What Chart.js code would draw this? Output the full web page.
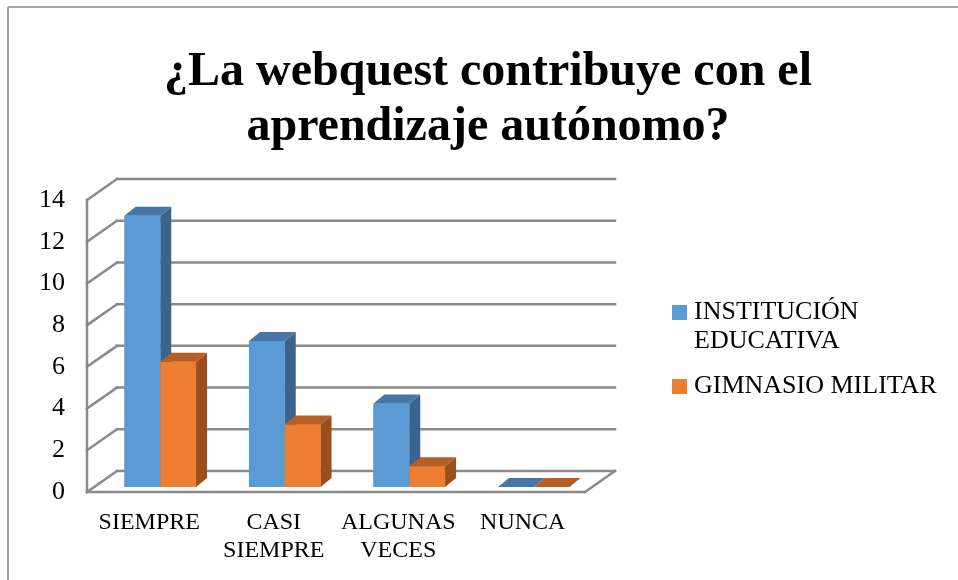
<!DOCTYPE html>
<html>
<head>
<meta charset="utf-8">
<script src="https://cdn.jsdelivr.net/npm/chart.js@4.4.1/dist/chart.umd.min.js"></script>
<style>
  html, body { margin: 0; padding: 0; background: #fff; }
  canvas { display: block; }
</style>
</head>
<body>
<canvas id="chart" width="958" height="580"></canvas>
<script>
const titleLines = ['¿La webquest contribuye con el', 'aprendizaje autónomo?'];
const categories = ['SIEMPRE', ['CASI', 'SIEMPRE'], ['ALGUNAS', 'VECES'], 'NUNCA'];
const seriesNames = ['INSTITUCIÓN EDUCATIVA', 'GIMNASIO MILITAR'];
const institucion = [13, 7, 4, 0];
const gimnasio = [6, 3, 1, 0];
const yMin = 0;
const yMax = 14;
const yStep = 2;

const serif = "'Liberation Serif', 'Times New Roman', serif";
const faces = [
    { front: '#5B9BD5', top: '#4677A8', side: '#3A638D' },
    { front: '#ED7D31', top: '#B65E24', side: '#9A4F1C' },
];

// pixel offsets for the fake depth
const FRONT = { x: -11, y: 5 };
const BACK = { x: 19, y: -16 };
const BAR_DEPTH = { x: 11, y: -9 };

function line(ctx, x1, y1, x2, y2) {
    ctx.beginPath();
    ctx.moveTo(x1, y1);
    ctx.lineTo(x2, y2);
    ctx.stroke();
}

function poly(ctx, pts, color) {
    ctx.beginPath();
    ctx.moveTo(pts[0][0], pts[0][1]);
    for (let i = 1; i < pts.length; i++) ctx.lineTo(pts[i][0], pts[i][1]);
    ctx.closePath();
    ctx.fillStyle = color;
    ctx.fill();
}

const depthPlugin = {
    id: 'depth3d',
    beforeDraw(chart) {
        const ctx = chart.ctx;
        ctx.save();
        ctx.strokeStyle = '#a6a6a6';
        ctx.lineWidth = 2;
        line(ctx, 8, 7, 8, 580);
        line(ctx, 8, 7, 958, 7);
        ctx.restore();
    },
    beforeDatasetsDraw(chart) {
        const ctx = chart.ctx;
        const { left, right } = chart.chartArea;
        const y = chart.scales.y;
        ctx.save();
        ctx.strokeStyle = '#8a8a8a';
        ctx.lineWidth = 2.5;
        ctx.lineCap = 'square';
        for (let v = yMin; v <= yMax; v += yStep) {
            const py = y.getPixelForValue(v);
            line(ctx, left + FRONT.x, py + FRONT.y, left + BACK.x, py + BACK.y);
            line(ctx, left + BACK.x, py + BACK.y, right + BACK.x, py + BACK.y);
        }
        const y0 = y.getPixelForValue(yMin);
        const yTop = y.getPixelForValue(yMax);
        line(ctx, left + FRONT.x, y0 + FRONT.y, left + FRONT.x, yTop + FRONT.y);
        line(ctx, left + FRONT.x, y0 + FRONT.y, right + FRONT.x, y0 + FRONT.y);
        line(ctx, right + FRONT.x, y0 + FRONT.y, right + BACK.x, y0 + BACK.y);
        ctx.restore();
    },
    afterDatasetsDraw(chart) {
        const ctx = chart.ctx;
        ctx.save();
        chart.data.datasets.forEach((ds, i) => {
            const meta = chart.getDatasetMeta(i);
            const f = faces[i];
            meta.data.forEach(bar => {
                const { x, y, base, width } = bar.getProps(['x', 'y', 'base', 'width'], true);
                const l = x - width / 2;
                const r = x + width / 2;
                if (base - y > 0) {
                    poly(ctx, [[r, y], [r + BAR_DEPTH.x, y + BAR_DEPTH.y], [r + BAR_DEPTH.x, base + BAR_DEPTH.y], [r, base]], f.side);
                    ctx.fillStyle = f.front;
                    ctx.fillRect(l, y, width, base - y);
                }
                poly(ctx, [[l, y], [r, y], [r + BAR_DEPTH.x, y + BAR_DEPTH.y], [l + BAR_DEPTH.x, y + BAR_DEPTH.y]], f.top);
            });
        });
        ctx.restore();
    },
    afterDraw(chart) {
        // legend on the right, long names wrapped
        const ctx = chart.ctx;
        ctx.save();
        ctx.font = `26px ${serif}`;
        ctx.textBaseline = 'middle';
        const boxX = 672, textX = 694, maxW = 262, lh = 29;
        let yy = 312;
        chart.data.datasets.forEach((ds, i) => {
            const words = ds.label.split(' ');
            const lines = [];
            let cur = '';
            words.forEach(w => {
                const t = cur ? cur + ' ' + w : w;
                if (ctx.measureText(t).width > maxW && cur) {
                    lines.push(cur);
                    cur = w;
                } else {
                    cur = t;
                }
            });
            lines.push(cur);
            ctx.fillStyle = ds.backgroundColor;
            ctx.fillRect(boxX, yy - 7, 15, 15);
            ctx.fillStyle = '#000';
            lines.forEach((ln, k) => ctx.fillText(ln, textX, yy + k * lh));
            yy += (lines.length - 1) * lh + 45;
        });
        ctx.restore();
    }
};

new Chart(document.getElementById('chart'), {
    type: 'bar',
    data: {
        labels: categories,
        datasets: [
            { label: seriesNames[0], data: institucion, backgroundColor: faces[0].front },
            { label: seriesNames[1], data: gimnasio, backgroundColor: faces[1].front },
        ],
    },
    options: {
        responsive: false,
        animation: false,
        devicePixelRatio: 1,
        datasets: {
            bar: { barPercentage: 1, categoryPercentage: 0.575, borderWidth: 0 },
        },
        layout: { padding: { left: 18, right: 0, top: 0, bottom: 0 } },
        scales: {
            x: {
                grid: { display: false, drawTicks: false },
                border: { display: false },
                ticks: {
                    color: '#000',
                    font: { family: serif, size: 24, lineHeight: '28px' },
                    padding: 22,
                    labelOffset: -11,
                    maxRotation: 0,
                    autoSkip: false,
                },
                afterFit(scale) { scale.height = 93; },
            },
            y: {
                min: yMin,
                max: yMax,
                grid: { display: false, drawTicks: false },
                border: { display: false },
                ticks: {
                    stepSize: yStep,
                    color: '#000',
                    font: { family: serif, size: 26 },
                    padding: 33,
                    labelOffset: 5,
                },
                afterFit(scale) { scale.width = 80; },
            },
            // empty axis that keeps room for the legend on the right
            legendSpace: {
                type: 'linear',
                position: 'right',
                display: true,
                grid: { display: false, drawTicks: false },
                border: { display: false },
                ticks: { display: false },
                afterFit(scale) { scale.width = 362; },
            },
        },
        plugins: {
            legend: { display: false },
            tooltip: { enabled: false },
            title: {
                display: true,
                text: titleLines,
                color: '#000',
                font: { family: serif, size: 48, weight: 'bold', lineHeight: '55px' },
                padding: { top: 45.5, bottom: 39.5 },
            },
        },
    },
    plugins: [depthPlugin],
});
</script>
</body>
</html>
